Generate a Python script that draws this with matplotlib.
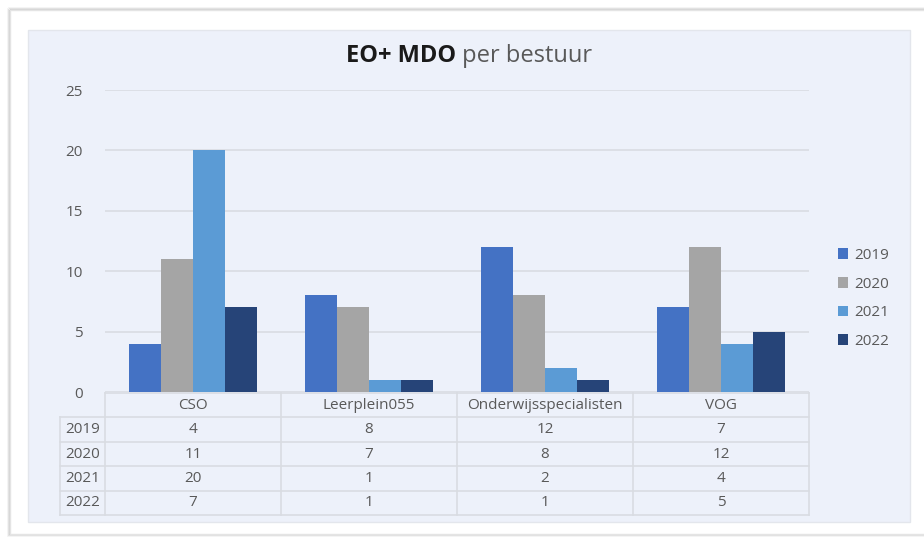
import matplotlib.pyplot as plt
from matplotlib.patches import Rectangle
import numpy as np

# data
categories = ['CSO', 'Leerplein055', 'Onderwijsspecialisten', 'VOG']
years = ['2019', '2020', '2021', '2022']
v2019 = [4, 8, 12, 7]
v2020 = [11, 7, 8, 12]
v2021 = [20, 1, 2, 4]
v2022 = [7, 1, 1, 5]
series = [v2019, v2020, v2021, v2022]
colors = ['#4472C4', '#A5A5A5', '#5B9BD5', '#264478']

plt.rcParams['font.family'] = ['Open Sans', 'DejaVu Sans']
W, H = 924, 537
fig = plt.figure(figsize=(W / 100, H / 100), dpi=100)
fig.patch.set_facecolor('white')

def px(x0, y0, x1, y1):
    # pixel box -> figure fraction rect
    return [x0 / W, 1 - y1 / H, (x1 - x0) / W, (y1 - y0) / H]

# outer frame with soft shadow, inner panel
bg = fig.add_axes([0, 0, 1, 1])
bg.set_xlim(0, W)
bg.set_ylim(H, 0)
bg.axis('off')
for i, a in enumerate([0.10, 0.07, 0.04]):
    bg.add_patch(Rectangle((10 - i, 10 - i), 930, 524 + 2 * i, facecolor='none',
                           edgecolor='black', alpha=a, lw=1.5))
bg.add_patch(Rectangle((10, 10), 930, 524, facecolor='white', edgecolor='#E4E4E4', lw=1))
bg.add_patch(Rectangle((28, 30), 882, 492, facecolor='#EDF1FA', edgecolor='#E3E6EC', lw=1))

bg.text(456, 56, 'EO+ MDO', ha='right', va='center', fontsize=17, fontweight='bold', color='#1a1a1a')
bg.text(456, 56, ' per bestuur', ha='left', va='center', fontsize=17, color='#595959')

# bars
x0, x1 = 105, 809
ax = fig.add_axes(px(x0, 90, x1, 392))
ax.set_facecolor('none')
ax.set_xlim(0, 4)
ax.set_ylim(0, 25)
ax.set_yticks(np.arange(0, 26, 5))
ax.yaxis.grid(True, color='#D9DCE2', lw=1.2)
ax.set_axisbelow(True)
ax.set_xticks([])
for s in ax.spines.values():
    s.set_visible(False)
ax.tick_params(axis='y', length=0, pad=16, labelsize=11, labelcolor='#595959')

xc = np.arange(len(categories)) + 0.5
bw = 0.183
for k, (vals, c) in enumerate(zip(series, colors)):
    ax.bar(xc + (k - 1.5) * bw, vals, width=bw, color=c, label=years[k], zorder=3)

ax.legend(loc='center left', bbox_to_anchor=((824 - x0) / (x1 - x0), 0.31), frameon=False,
          handlelength=0.7, handleheight=0.7, handletextpad=0.4, labelspacing=0.9,
          fontsize=11, labelcolor='#595959')

# data table
lx = 60
left = -(x0 - lx) / ((x1 - x0) / 4)
tb = fig.add_axes(px(lx, 393, x1, 515))
tb.set_xlim(left, 4)
tb.set_ylim(5, 0)
tb.axis('off')
lc = '#D9DCE2'
for r in range(6):
    tb.plot([0 if r == 0 else left, 4], [r, r], color=lc, lw=1.2, clip_on=False)
tb.plot([left, left], [1, 5], color=lc, lw=1.2, clip_on=False)
for c in range(5):
    tb.plot([c, c], [0, 5], color=lc, lw=1.2, clip_on=False)
for j, cat in enumerate(categories):
    tb.text(j + 0.5, 0.5, cat, ha='center', va='center', fontsize=11, color='#595959')
for i, (yr, vals) in enumerate(zip(years, series)):
    tb.text(left / 2, i + 1.5, yr, ha='center', va='center', fontsize=11, color='#595959')
    for j, v in enumerate(vals):
        tb.text(j + 0.5, i + 1.5, str(v), ha='center', va='center', fontsize=11, color='#595959')

fig.savefig('out.png', dpi=100)
